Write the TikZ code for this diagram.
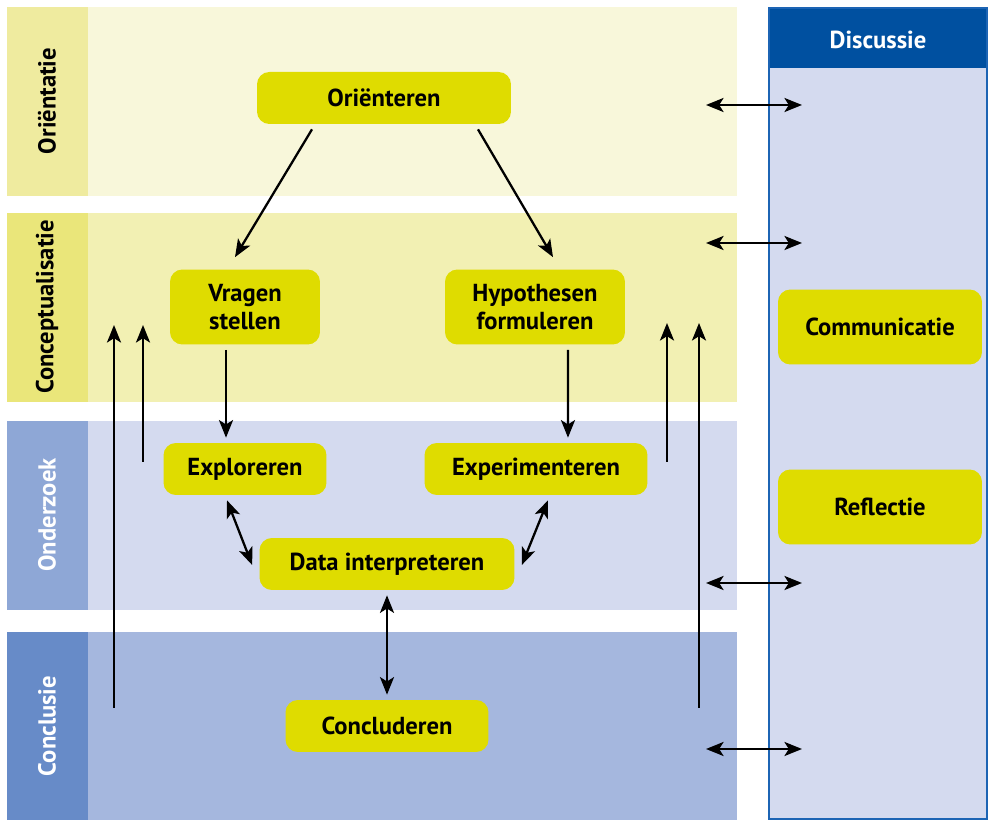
\documentclass[tikz,border=0pt]{standalone}
\usepackage{fontspec}
\setmainfont{PT Sans}
\usetikzlibrary{arrows.meta,positioning,calc}
\definecolor{OriLabel}{HTML}{EFEB9F}
\definecolor{OriMain}{HTML}{F8F7DA}
\definecolor{ConLabel}{HTML}{EAE67A}
\definecolor{ConMain}{HTML}{F2F0B3}
\definecolor{OndLabel}{HTML}{8EA7D6}
\definecolor{OndMain}{HTML}{D4DAEF}
\definecolor{ConclLabel}{HTML}{678BC8}
\definecolor{ConclMain}{HTML}{A5B7DE}
\definecolor{DiscHead}{HTML}{0050A0}
\definecolor{DiscBorder}{HTML}{1C64B4}
\definecolor{StepYellow}{HTML}{DFDC00}
\tikzset{
  stepbox/.style={rectangle,rounded corners=7pt,fill=StepYellow,inner sep=0pt,minimum height=1.04cm,align=center,font=\fontsize{14}{16}\selectfont\bfseries},
  tallbox/.style={stepbox,minimum height=1.5cm},
  phase/.style={rotate=90,font=\fontsize{14}{16}\selectfont\bfseries},
  arrow/.style={-{Stealth[length=10pt,width=8pt,inset=2.5pt]},line width=1.3pt},
  dblarrow/.style={{Stealth[length=10pt,width=8pt,inset=2.5pt]}-{Stealth[length=10pt,width=8pt,inset=2.5pt]},line width=1.3pt},
}

\begin{document}
\begin{tikzpicture}[x=0.02cm,y=-0.02cm]
  \useasboundingbox (0,0) rectangle (988,820);

  % Phase bands
  \fill[OriLabel] (7,7) rectangle (88,196);
  \fill[OriMain] (88,7) rectangle (737,196);
  \fill[ConLabel] (7,213) rectangle (88,402);
  \fill[ConMain] (88,213) rectangle (737,402);
  \fill[OndLabel] (7,421) rectangle (88,610);
  \fill[OndMain] (88,421) rectangle (737,610);
  \fill[ConclLabel] (7,632) rectangle (88,820);
  \fill[ConclMain] (88,632) rectangle (737,820);

  % Phase labels
  \node[phase] (lori) at (47,101) {Oriëntatie};
  \node[phase] (lcon) at (47,307) {Conceptualisatie};
  \node[phase,text=white] (lond) at (47,515) {Onderzoek};
  \node[phase,text=white] (lconcl) at (47,726) {Conclusie};

  % Discussie column
  \fill[OndMain] (768,7) rectangle (988,820);
  \fill[DiscHead] (768,7) rectangle (988,68);
  \draw[DiscBorder,line width=1.2pt] (769,8) rectangle (987,819);
  \node[phase,rotate=-90,text=white] (disc) at (878,40) {Discussie};

  % Steps
  \node[stepbox,minimum width=5.08cm] (orient) at (384,98) {Oriënteren};
  \node[tallbox,minimum width=3.0cm] (vragen) at (245,307) {Vragen\\stellen};
  \node[tallbox,minimum width=3.6cm] (hypo) at (535,307) {Hypothesen\\formuleren};
  \node[stepbox,minimum width=3.26cm] (explor) at (245,469) {Exploreren};
  \node[stepbox,minimum width=4.46cm] (exper) at (536,469) {Experimenteren};
  \node[stepbox,minimum width=5.1cm] (data) at (387,564) {Data interpreteren};
  \node[stepbox,minimum width=4.06cm] (concl) at (387,726) {Concluderen};
  \node[tallbox,minimum width=4.08cm] (comm) at (880,327) {Communicatie};
  \node[tallbox,minimum width=4.08cm] (refl) at (880,507) {Reflectie};

  % Free ends
  \coordinate (l1s) at (114,708);
  \coordinate (l1e) at (114,325);
  \coordinate (l2s) at (143,462);
  \coordinate (l2e) at (143,325);
  \coordinate (r1s) at (667,462);
  \coordinate (r1e) at (667,323);
  \coordinate (r2s) at (699,708);
  \coordinate (r2e) at (699,323);
  \foreach \n/\y in {1/105,2/243,3/583,4/749}{
    \coordinate (h\n a) at (706,\y);
    \coordinate (h\n b) at (802,\y);
  }

  % Arrows down
  \draw[arrow] ([xshift=-1.44cm,yshift=-0.1cm]orient.south) -- ([xshift=-0.2cm,yshift=0.24cm]vragen.north);
  \draw[arrow] ([xshift=1.88cm,yshift=-0.1cm]orient.south) -- ([xshift=0.36cm,yshift=0.24cm]hypo.north);
  \draw[arrow] ([xshift=-0.38cm,yshift=-0.1cm]vragen.south) -- ([xshift=-0.38cm,yshift=0.1cm]explor.north);
  \draw[arrow] ([xshift=0.66cm,yshift=-0.1cm]hypo.south) -- ([xshift=0.64cm,yshift=0.1cm]exper.north);
  % Arrows both ways
  \draw[dblarrow] ([xshift=-0.36cm,yshift=-0.1cm]explor.south) -- ([xshift=-0.14cm,yshift=-0.02cm]data.west);
  \draw[dblarrow] ([xshift=0.24cm,yshift=-0.1cm]exper.south) -- ([xshift=0.14cm,yshift=-0.02cm]data.east);
  \draw[dblarrow] ([yshift=-0.1cm]data.south) -- ([yshift=0.1cm]concl.north);
  % Arrows up
  \draw[arrow] (l1s) -- (l1e);
  \draw[arrow] (l2s) -- (l2e);
  \draw[arrow] (r1s) -- (r1e);
  \draw[arrow] (r2s) -- (r2e);
  % Arrows to Discussie
  \foreach \n in {1,...,4}
    \draw[dblarrow] (h\n a) -- (h\n b);
\end{tikzpicture}
\end{document}
